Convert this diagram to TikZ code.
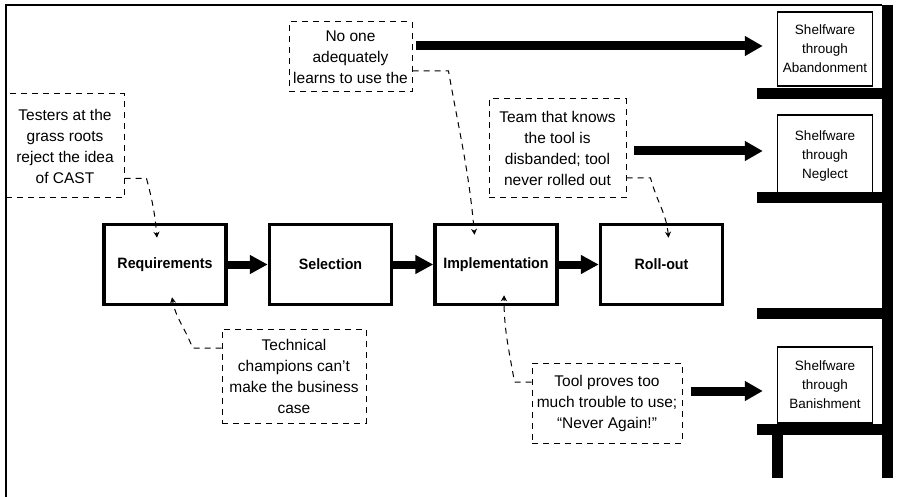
\documentclass[tikz,border=0pt]{standalone}
\usepackage{fontspec}
\setmainfont{Liberation Sans}
\newfontfamily\stagefont[FakeStretch=0.95]{Liberation Sans}
\usepackage{tikz}
\usetikzlibrary{arrows.meta,calc,positioning}

\begin{document}
\begin{tikzpicture}[x=1pt,y=-1pt,
  stage/.style={draw,line width=3.5pt,minimum width=122pt,minimum height=80pt,inner sep=0pt,font=\stagefont\fontsize{15}{17}\selectfont\bfseries},
  note/.style={draw,dash pattern=on 6pt off 5pt,line width=1pt,inner sep=0pt,align=center,font=\fontsize{15.5}{21}\selectfont},
  shelfbox/.style={draw,line width=1.5pt,minimum width=95pt,inner sep=0pt,align=center,font=\fontsize{13.5}{19}\selectfont},
  flow/.style={line width=8pt,-{Triangle[length=18pt,width=18pt]}},
  fate/.style={line width=9pt,-{Triangle[length=18pt,width=19pt]}},
  hint/.style={dash pattern=on 6pt off 5pt,line width=1pt,-{Stealth[length=6pt,width=6pt]}},
  plank/.style={line width=11pt}]
\useasboundingbox (0,0) rectangle (913,497);
% frame and shelf
\draw [line width=1.5pt] (6,497) -- (6,5) -- (882,5);
\draw [plank] (887.5,5) -- (887.5,478);
\foreach \y in {93.5,197.5,313.5,429}
  \draw [plank] (757,\y) -- (893,\y);
\draw [plank] (777.5,429) -- (777.5,478);
% the four stages
\node [stage] (req) at (165,264.5) {Requirements};
\node [stage,right=40pt of req] (sel) {Selection};
\node [stage,right=40pt of sel] (impl) {Implementation};
\node [stage,right=40pt of impl] (roll) {Roll-out};
\draw [flow] (req) -- (sel);
\draw [flow] (sel) -- (impl);
\draw [flow] (impl) -- (roll);
% shelfware
\node [shelfbox,minimum height=74pt] (aband) at (825,49) {Shelfware\\through\\Abandonment};
\node [shelfbox,minimum height=82pt] (negl) at (825,156) {Shelfware\\through\\Neglect};
\node [shelfbox,minimum height=76pt] (banish) at (825,385) {Shelfware\\through\\Banishment};
% notes
\node [note,minimum width=118pt,minimum height=104pt] (testers) at (65,146) {Testers at the\\grass roots\\reject the idea\\of CAST};
\node [note,minimum width=123pt,minimum height=70pt] (noone) at (350.5,57) {No one\\adequately\\learns to use the};
\node [note,minimum width=137pt,minimum height=99pt] (team) at (557.5,148.5) {Team that knows\\the tool is\\disbanded; tool\\never rolled out};
\node [note,minimum width=144pt,minimum height=94pt] (tech) at (294,376) {Technical\\champions can’t\\make the business\\case};
\node [note,minimum width=150pt,minimum height=80pt] (tool) at (607,403) {Tool proves too\\much trouble to use;\\“Never Again!”};
\draw [fate] ([xshift=3pt,yshift=11pt]noone.east) -- ([xshift=-14pt,yshift=3pt]aband.west);
\draw [fate] ([xshift=7.5pt,yshift=-2.5pt]team.east) -- ([xshift=-14pt,yshift=5pt]negl.west);
\draw [fate] ([xshift=8.5pt,yshift=12pt]tool.east) -- ([xshift=-14pt,yshift=-6pt]banish.west);
\draw [hint] ([yshift=20pt]testers.south east) -- ++(22,0) to[out=-75,in=95] ([xshift=-8pt,yshift=-15pt]req.north);
\draw [hint] ([yshift=-14pt]noone.east) -- ++(36,0) to[out=-80,in=95] ([xshift=-21.5pt,yshift=-12pt]impl.north);
\draw [hint] ([yshift=-29.5pt]team.east) -- ++(24,0) to[out=-75,in=95] ([xshift=7pt,yshift=-15pt]roll.north);
\draw [hint] ([yshift=28pt]tech.west) -- ++(-29,0) to[out=110,in=-80] ([xshift=7pt,yshift=9pt]req.south);
\draw [hint] ([yshift=21pt]tool.west) -- ++(-17,0) to[out=100,in=-90] ([xshift=8pt,yshift=11pt]impl.south);
\end{tikzpicture}
\end{document}
